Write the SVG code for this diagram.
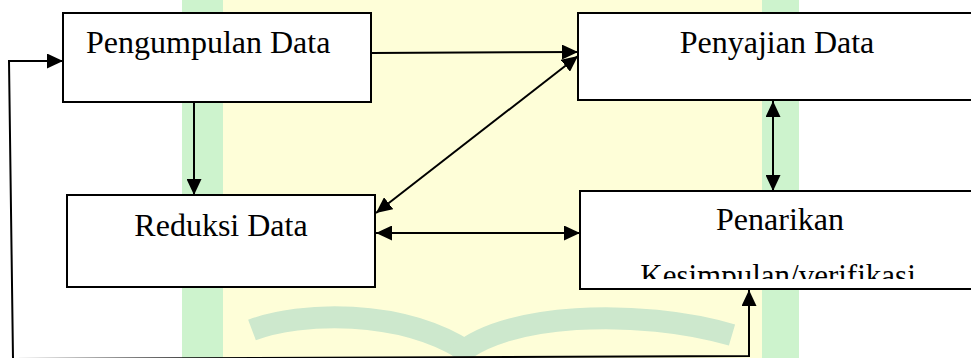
<svg xmlns="http://www.w3.org/2000/svg" width="971" height="358" viewBox="0 0 971 358">
  <style>
    .box { fill: #ffffff; stroke: #000000; stroke-width: 2; }
    .lbl { font-family: "Liberation Serif", "Times New Roman", serif; font-size: 32px; fill: #000000; }
    .conn { fill: none; stroke: #000000; stroke-width: 2; }
    .wm-green { fill: #cdf3cd; }
    .wm-yellow { fill: #fefed8; }
    .wm-arch { fill: none; stroke: #cde8cd; stroke-width: 22; }
  </style>
  <defs>
    <marker id="arrow" viewBox="0 0 16 15" refX="16" refY="7.5" markerWidth="16" markerHeight="15" markerUnits="userSpaceOnUse" orient="auto-start-reverse">
      <path d="M0,0 L16,7.5 L0,15 Z" fill="#000000"/>
    </marker>
    <clipPath id="clipKes">
      <rect x="580" y="240" width="400" height="39"/>
    </clipPath>
  </defs>

  <!-- watermark background -->
  <g id="watermark">
    <rect x="0" y="0" width="971" height="358" fill="#ffffff"/>
    <rect class="wm-yellow" x="222" y="0" width="540" height="358"/>
    <rect class="wm-green" x="182" y="0" width="41" height="358"/>
    <rect class="wm-green" x="762" y="0" width="37" height="358"/>
    <path class="wm-arch" d="M252,330 C300,312 400,308 468,352"/>
    <path class="wm-arch" d="M455,358 C500,312 640,308 732,335"/>
  </g>

  <g id="connectors">
    <path class="conn" d="M63,61 L9,61 L13,359 L749,356 L749,290" marker-start="url(#arrow)" marker-end="url(#arrow)"/>
    <path class="conn" d="M371,53 L578,52" marker-end="url(#arrow)"/>
    <path class="conn" d="M376,213 L578,56" marker-start="url(#arrow)" marker-end="url(#arrow)"/>
    <path class="conn" d="M194,102 L194,195" marker-end="url(#arrow)"/>
    <path class="conn" d="M773,101 L773,191" marker-start="url(#arrow)" marker-end="url(#arrow)"/>
    <path class="conn" d="M376,233 L580,233" marker-start="url(#arrow)" marker-end="url(#arrow)"/>
  </g>

  <g id="pengumpulan">
    <rect class="box" x="63" y="13" width="308" height="89"/>
    <text class="lbl" x="86" y="53">Pengumpulan Data</text>
  </g>

  <g id="penyajian">
    <rect class="box" x="578" y="13" width="400" height="87"/>
    <text class="lbl" x="777" y="53" text-anchor="middle">Penyajian Data</text>
  </g>

  <g id="reduksi">
    <rect class="box" x="67" y="195" width="308" height="92"/>
    <text class="lbl" x="221" y="236" text-anchor="middle">Reduksi Data</text>
  </g>

  <g id="penarikan">
    <rect class="box" x="580" y="191" width="400" height="98"/>
    <text class="lbl" x="780" y="230" text-anchor="middle">Penarikan</text>
    <text class="lbl" x="778" y="286" text-anchor="middle" style="font-size:31px" clip-path="url(#clipKes)">Kesimpulan/verifikasi</text>
  </g>
</svg>
